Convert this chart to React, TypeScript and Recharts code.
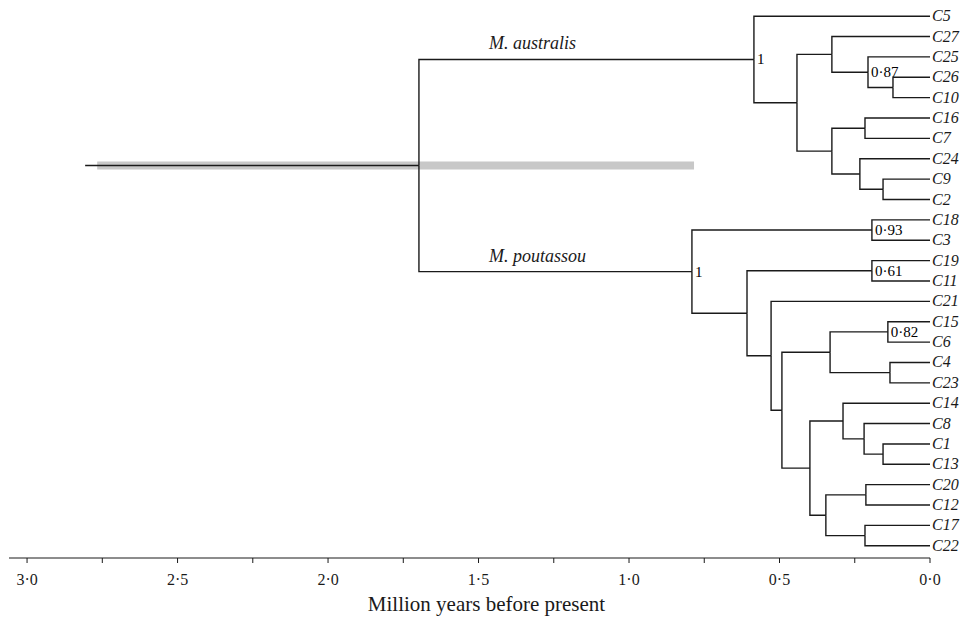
import React from 'react';
import { ComposedChart, Line, XAxis, YAxis } from 'recharts';

// tips, top to bottom
const tipNames = [
  'C5', 'C27', 'C25', 'C26', 'C10', 'C16', 'C7', 'C24', 'C9', 'C2',
  'C18', 'C3', 'C19', 'C11', 'C21', 'C15', 'C6', 'C4', 'C23', 'C14',
  'C8', 'C1', 'C13', 'C20', 'C12', 'C17', 'C22'
];

// [node, age (Myr), children]
const clades: [string, number, string[]][] = [
  ['root', 1.698, ['A', 'P']],
  ['A', 0.585, ['C5', 'B']],
  ['B', 0.442, ['C', 'F']],
  ['C', 0.326, ['C27', 'D']],
  ['D', 0.206, ['C25', 'E']],
  ['E', 0.123, ['C26', 'C10']],
  ['F', 0.326, ['G', 'H']],
  ['G', 0.216, ['C16', 'C7']],
  ['H', 0.233, ['C24', 'I']],
  ['I', 0.156, ['C9', 'C2']],
  ['P', 0.791, ['Q1', 'R']],
  ['Q1', 0.193, ['C18', 'C3']],
  ['R', 0.608, ['Q2', 'S']],
  ['Q2', 0.193, ['C19', 'C11']],
  ['S', 0.528, ['C21', 'T']],
  ['T', 0.492, ['U', 'V']],
  ['U', 0.332, ['W', 'X']],
  ['W', 0.14, ['C15', 'C6']],
  ['X', 0.133, ['C4', 'C23']],
  ['V', 0.399, ['Y', 'Z']],
  ['Y', 0.289, ['C14', 'Y2']],
  ['Y2', 0.219, ['C8', 'Y3']],
  ['Y3', 0.156, ['C1', 'C13']],
  ['Z', 0.346, ['Z1', 'Z2']],
  ['Z1', 0.213, ['C20', 'C12']],
  ['Z2', 0.216, ['C17', 'C22']]
];

const supportValues: [string, string][] = [
  ['A', '1'], ['D', '0·87'], ['P', '1'], ['Q1', '0·93'], ['Q2', '0·61'], ['W', '0·82']
];

const lineageNames: [string, string][] = [
  ['A', 'M. australis'],
  ['P', 'M. poutassou']
];

const rootStemAge = 2.807;
const rootHpd = [2.767, 0.784];

const xTicks = [0, 0.25, 0.5, 0.75, 1, 1.25, 1.5, 1.75, 2, 2.25, 2.5, 2.75, 3];

// ---- layout from the data ----
const ageOf: Record<string, number> = {};
const kidsOf: Record<string, string[]> = {};
tipNames.forEach(n => { ageOf[n] = 0; });
clades.forEach(([id, age, kids]) => { ageOf[id] = age; kidsOf[id] = kids; });

const yOf: Record<string, number> = {};
const place = (id: string): number => {
  if (yOf[id] !== undefined) return yOf[id];
  if (!kidsOf[id]) {
    yOf[id] = tipNames.indexOf(id);
  } else {
    const ys = kidsOf[id].map(place);
    yOf[id] = (Math.min(...ys) + Math.max(...ys)) / 2;
  }
  return yOf[id];
};
place('root');

const supportOf = Object.fromEntries(supportValues);
const lineageOf = Object.fromEntries(lineageNames);

const edges = clades.flatMap(([id, age, kids]) =>
  kids.map(k => ({
    child: k,
    data: [
      { t: age, y: yOf[id] },
      { t: age, y: yOf[k] },
      { t: ageOf[k], y: yOf[k] }
    ]
  }))
);

const stemData = [{ t: rootStemAge, y: yOf.root }, { t: ageOf.root, y: yOf.root }];
const hpdData = rootHpd.map(t => ({ t, y: yOf.root }));

const INK = '#1a1a1a';
const SERIF = '"Liberation Serif", "Times New Roman", serif';

const fmtTick = (v: number) =>
  Math.abs(v * 2 - Math.round(v * 2)) < 1e-6 ? v.toFixed(1).replace('.', '·') : '';

const edgeDot = (child: string) => (p: any) => {
  const key = `${child}-${p.index}`;
  if (p.index === 1 && lineageOf[child]) {
    return (
      <text key={key} x={p.cx + 70} y={p.cy - 10} fill={INK}
        style={{ fontFamily: SERIF, fontStyle: 'italic', fontSize: 18 }}>{lineageOf[child]}</text>
    );
  }
  if (p.index !== 2) return <g key={key} />;
  if (!kidsOf[child]) {
    return (
      <text key={key} x={p.cx + 2} y={p.cy + 5} fill={INK}
        style={{ fontFamily: SERIF, fontStyle: 'italic', fontSize: 16 }}>{child}</text>
    );
  }
  if (supportOf[child]) {
    return (
      <text key={key} x={p.cx + 3} y={p.cy + 5} fill="#000"
        style={{ fontFamily: SERIF, fontSize: 15 }}>{supportOf[child]}</text>
    );
  }
  return <g key={key} />;
};

export default function App() {
  return (
    <div style={{ position: 'absolute', left: 0, top: 0, background: '#fff' }}>
      <ComposedChart width={965} height={618} margin={{ top: 6, right: 35, bottom: 0, left: 9 }}>
        <XAxis
          type="number"
          dataKey="t"
          domain={[0, 3.06]}
          reversed
          ticks={xTicks}
          interval={0}
          tickFormatter={fmtTick}
          tickSize={5}
          tickMargin={11}
          height={60}
          stroke={INK}
          tick={{ fill: INK, fontSize: 16, fontFamily: SERIF }}
          label={{
            value: 'Million years before present',
            position: 'insideBottom',
            offset: 7,
            dx: 17,
            fill: INK,
            fontSize: 21,
            fontFamily: SERIF
          }}
        />
        <YAxis type="number" dataKey="y" domain={[-0.5, 26.6]} reversed hide />
        <Line
          data={hpdData}
          dataKey="y"
          stroke="#c8c8c8"
          strokeWidth={8}
          dot={false}
          activeDot={false}
          isAnimationActive={false}
        />
        <Line
          data={stemData}
          dataKey="y"
          stroke={INK}
          strokeWidth={1.4}
          dot={false}
          activeDot={false}
          isAnimationActive={false}
        />
        {edges.map(e => (
          <Line
            key={e.child}
            data={e.data}
            dataKey="y"
            type="linear"
            stroke={INK}
            strokeWidth={1.4}
            dot={edgeDot(e.child)}
            activeDot={false}
            isAnimationActive={false}
          />
        ))}
      </ComposedChart>
    </div>
  );
}
